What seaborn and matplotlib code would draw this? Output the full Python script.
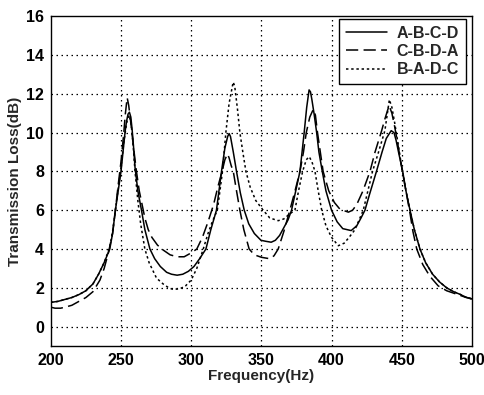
import matplotlib
matplotlib.use("Agg")
import matplotlib.pyplot as plt
import seaborn as sns
import pandas as pd

# A-B-C-D (solid)
freq_abcd = [200, 205, 210, 215, 220, 225, 230, 234, 238, 242, 244, 246, 248, 250, 252, 253, 254, 255, 256, 257, 258, 259, 260, 262, 264.6, 267, 270.6, 274, 278, 282.5, 286, 290, 294, 298, 302, 306, 310.5, 314, 318, 321.6, 324, 326, 327, 328, 330, 332.3, 335, 337.8, 341, 345, 349.7, 353, 357, 360, 363, 366, 369, 371.5, 374.5, 377.5, 379, 380.5, 382.3, 384, 385, 386, 387.5, 389.4, 391, 393.4, 396, 400, 404, 408, 414, 418, 421, 423.8, 427, 432, 436, 439, 442.5, 444.5, 446, 448, 450.7, 453, 455.9, 459, 463, 467, 472, 477, 482, 487, 492, 496, 500]
tl_abcd = [1.25, 1.3, 1.4, 1.5, 1.65, 1.85, 2.2, 2.7, 3.3, 4.0, 4.8, 6.0, 7.0, 8.0, 9.4, 10.1, 10.6, 10.95, 11.05, 10.8, 10.1, 9.2, 8.2, 7.0, 6.0, 5.0, 4.0, 3.5, 3.1, 2.8, 2.7, 2.65, 2.7, 2.85, 3.1, 3.5, 4.0, 5.0, 6.0, 8.0, 9.2, 9.8, 9.95, 9.8, 9.0, 8.0, 6.9, 6.0, 5.3, 4.8, 4.45, 4.4, 4.35, 4.45, 4.7, 5.1, 5.5, 6.0, 7.0, 8.0, 9.0, 10.0, 11.3, 12.2, 12.1, 11.7, 11.0, 10.0, 9.0, 8.0, 7.0, 6.0, 5.4, 5.05, 4.95, 5.2, 5.6, 6.0, 6.8, 8.0, 9.0, 9.7, 10.1, 10.0, 9.6, 8.9, 8.0, 7.0, 6.0, 5.0, 4.0, 3.3, 2.7, 2.3, 2.0, 1.8, 1.65, 1.5, 1.43]

# C-B-D-A (dashed)
freq_cbda = [200, 203, 207, 210, 215, 220, 225, 230, 235, 238, 241, 244, 246, 248, 250, 252, 253, 254.4, 255.5, 257, 259, 261, 263, 265, 267, 269.4, 272, 276, 280, 285, 290, 295, 300, 304, 308, 312, 316, 319, 322, 324, 325.9, 327, 328.5, 330, 332.3, 334.7, 337.5, 341.3, 345, 350.2, 356, 359, 362, 366, 370.3, 374, 377.5, 380, 382, 384.5, 387, 388.5, 390, 392, 394, 398, 402, 406, 412, 415, 418, 422.4, 427.4, 431, 435.7, 438, 441, 443, 445, 447, 450, 453, 456, 458, 460.7, 465, 470, 476, 482, 488, 494, 500]
tl_cbda = [1.0, 0.95, 0.95, 1.0, 1.1, 1.3, 1.5, 1.8, 2.4, 3.0, 3.8, 4.8, 6.0, 7.3, 8.5, 10.0, 10.9, 11.8, 11.4, 10.5, 9.2, 8.0, 7.0, 6.3, 5.6, 5.0, 4.6, 4.2, 3.95, 3.7, 3.6, 3.6, 3.8, 4.0, 4.6, 5.4, 6.3, 7.2, 8.0, 8.6, 8.9, 8.7, 8.3, 8.0, 7.0, 6.0, 5.0, 4.0, 3.7, 3.57, 3.5, 3.65, 4.0, 4.9, 6.0, 7.0, 8.0, 9.0, 10.0, 10.8, 11.2, 10.9, 10.0, 9.0, 8.0, 7.0, 6.4, 6.05, 5.9, 6.0, 6.3, 7.0, 8.0, 9.0, 10.1, 10.7, 11.4, 11.0, 10.3, 9.5, 8.2, 7.0, 5.8, 4.9, 4.0, 3.2, 2.6, 2.1, 1.85, 1.7, 1.55, 1.43]

# B-A-D-C (dotted)
freq_badc = [200, 205, 210, 215, 220, 225, 230, 234, 238, 242, 244, 246, 248, 250, 252, 254, 255.5, 257, 258.5, 260, 262, 264, 267, 270, 275.3, 280, 284, 287, 292, 296, 300, 304, 308.6, 312, 315, 318.6, 320.5, 322.3, 324.7, 327, 329.9, 331, 333, 334.7, 337, 339, 342, 346, 351.3, 356, 362, 366, 370, 373.9, 376.5, 379.4, 382, 384.1, 386, 388.2, 390.5, 393, 396, 400, 404.8, 409, 412.5, 416.7, 422.6, 429.2, 433.5, 438, 441.2, 443, 445, 447, 450.5, 453, 455.9, 459, 463, 467, 472, 477, 482, 487, 492, 496, 500]
tl_badc = [1.25, 1.3, 1.4, 1.5, 1.65, 1.85, 2.2, 2.7, 3.3, 4.1, 4.9, 6.0, 7.1, 8.2, 9.5, 10.5, 10.9, 10.6, 9.5, 8.0, 6.5, 5.3, 4.0, 3.3, 2.5, 2.2, 2.0, 1.92, 1.95, 2.1, 2.4, 3.0, 4.0, 4.8, 5.4, 6.0, 7.0, 8.0, 10.0, 11.5, 12.6, 12.4, 11.2, 10.0, 8.9, 8.0, 7.2, 6.5, 6.0, 5.6, 5.46, 5.55, 5.8, 6.0, 7.0, 8.0, 8.6, 8.76, 8.5, 8.0, 7.0, 6.0, 5.2, 4.6, 4.17, 4.3, 4.6, 5.0, 6.0, 8.0, 9.0, 10.1, 11.7, 11.3, 10.5, 9.6, 8.0, 7.0, 6.0, 5.0, 4.0, 3.3, 2.7, 2.3, 2.0, 1.8, 1.65, 1.5, 1.43]

series_names = ["A-B-C-D", "C-B-D-A", "B-A-D-C"]
x_ticks = [200, 250, 300, 350, 400, 450, 500]
y_ticks = [0, 2, 4, 6, 8, 10, 12, 14, 16]

sns.set_style("white")
plt.rcParams['font.family'] = ['Liberation Sans', 'DejaVu Sans']
plt.rcParams['font.weight'] = 'bold'

fig = plt.figure(figsize=(4.84, 3.95), dpi=100)
ax = fig.add_axes([0.105, 0.124, 0.870, 0.835])

data = [(freq_abcd, tl_abcd), (freq_cbda, tl_cbda), (freq_badc, tl_badc)]
dash_patterns = [None, (8, 3.5), (1.6, 1.8)]
for (f, t), name, dp in zip(data, series_names, dash_patterns):
    df = pd.DataFrame({"Frequency": f, "TL": t})
    sns.lineplot(data=df, x="Frequency", y="TL", ax=ax, color='black', lw=1.1,
                 label=name, zorder=3)
    if dp is not None:
        ax.lines[-1].set_dashes(dp)

ax.set_xlim(200, 500)
ax.set_ylim(-1, 16)
ax.set_xticks(x_ticks)
ax.set_yticks(y_ticks)
ax.tick_params(direction='in', length=4, width=0.8, labelsize=11.5, colors='black', pad=5)
for lab in ax.get_xticklabels() + ax.get_yticklabels():
    lab.set_fontweight('bold')
for xv in x_ticks[1:-1]:
    ax.axvline(xv, color='black', linestyle=(0, (1.2, 2.8)), linewidth=0.9, zorder=1)
for yv in y_ticks[:-1]:
    ax.axhline(yv, color='black', linestyle=(0, (1.2, 2.8)), linewidth=0.9, zorder=1)
for sp in ax.spines.values():
    sp.set_color('black')
    sp.set_linewidth(1.0)
ax.set_xlabel("Frequency(Hz)", fontsize=11, fontweight='bold', labelpad=1)
ax.set_ylabel("Transmission Loss(dB)", fontsize=11, fontweight='bold', labelpad=3)

leg = ax.legend(loc='upper right', bbox_to_anchor=(0.985, 0.99), fontsize=11.5,
                frameon=True, fancybox=False, edgecolor='black', framealpha=1,
                borderaxespad=0.0, handlelength=2.6, handletextpad=0.6,
                labelspacing=0.2, borderpad=0.4)
leg.get_frame().set_linewidth(1.0)
for t in leg.get_texts():
    t.set_fontweight('bold')

fig.savefig("out.png", dpi=100)
